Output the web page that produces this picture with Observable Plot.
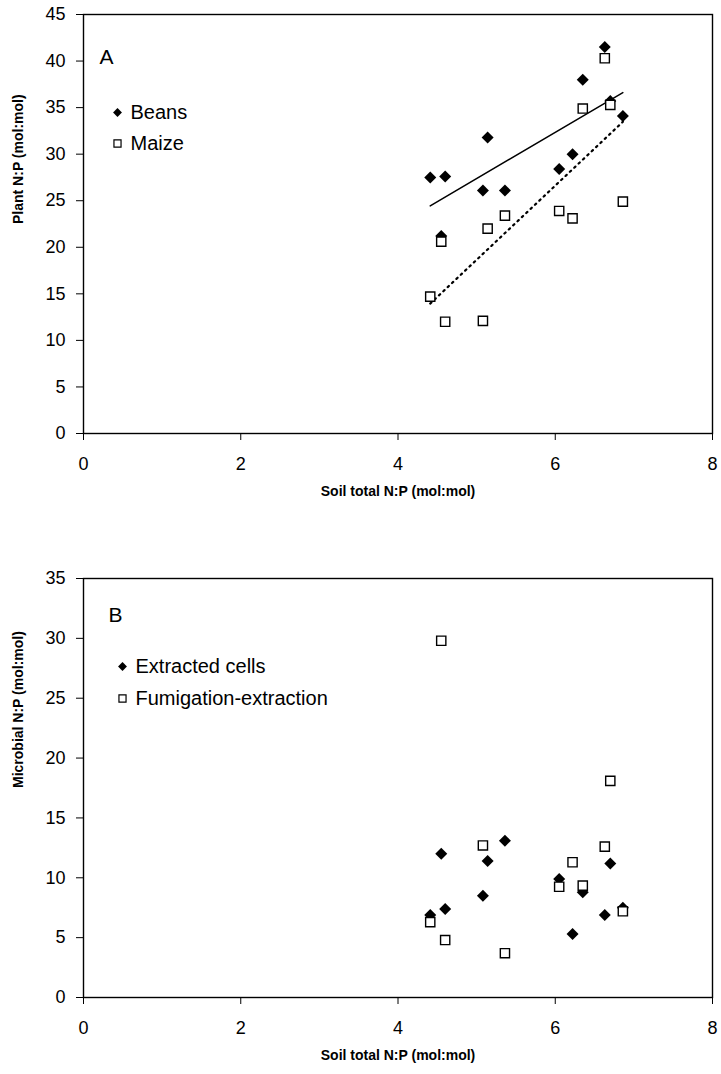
<!DOCTYPE html>
<html>
<head>
<meta charset="utf-8">
<script src="https://cdn.jsdelivr.net/npm/d3@7"></script>
<script src="https://cdn.jsdelivr.net/npm/@observablehq/plot@0.6"></script>
<style>
  body { margin: 0; background: #fff; }
  #chart svg { display: block; }
</style>
</head>
<body>
<div id="chart"></div>
<script>
// ---- data ----
const soilNP = [4.41, 4.55, 4.60, 5.08, 5.14, 5.36, 6.05, 6.22, 6.35, 6.63, 6.70, 6.86];
// Panel A
const beansNP = [27.5, 21.2, 27.6, 26.1, 31.8, 26.1, 28.4, 30.0, 38.0, 41.5, 35.7, 34.1];
const maizeNP = [14.7, 20.6, 12.0, 12.1, 22.0, 23.4, 23.9, 23.1, 34.9, 40.3, 35.3, 24.9];
// Panel B
const extractedNP = [6.9, 12.0, 7.4, 8.5, 11.4, 13.1, 9.9, 5.3, 8.8, 6.9, 11.2, 7.5];
const fumigationNP = [6.3, 29.8, 4.8, 12.7, null, 3.7, 9.25, 11.3, 9.35, 12.6, 18.1, 7.2];
// ticks
const xTicks = [0, 2, 4, 6, 8];
const yTicksA = [0, 5, 10, 15, 20, 25, 30, 35, 40, 45];
const yTicksB = [0, 5, 10, 15, 20, 25, 30, 35];
// labels
const xTitle = "Soil total N:P (mol:mol)";
const yTitleA = "Plant N:P (mol:mol)";
const yTitleB = "Microbial N:P (mol:mol)";
const seriesA = ["Beans", "Maize"];
const seriesB = ["Extracted cells", "Fumigation-extraction"];

const rowsA = soilNP.map((s, i) => ({soil: s, beans: beansNP[i], maize: maizeNP[i]}));
const rowsB = soilNP.map((s, i) => ({soil: s, ext: extractedNP[i], fum: fumigationNP[i]}));

const FONT = "'Liberation Sans', Arial, Helvetica, sans-serif";
const TICK_FS = 18, LEG_FS = 20, LET_FS = 21, TITLE_FS = 14;

function panel({rows, y1, y2, yDomain, yTicks, yTitle, letter, legend, line, height, mt, mb, let: L, leg}) {
  const marks = [
    Plot.axisX({ticks: xTicks, tickSize: 7, tickPadding: 17, label: null, fontSize: TICK_FS}),
    Plot.axisY({ticks: yTicks, tickSize: 7, tickPadding: 11, label: null, fontSize: TICK_FS}),
    Plot.frame({stroke: "black", strokeWidth: 1.4}),
  ];
  if (line) {
    marks.push(Plot.linearRegressionY(rows, {x: "soil", y: y1, stroke: "black", strokeWidth: 1.5, ci: 0}));
    marks.push(Plot.linearRegressionY(rows, {x: "soil", y: y2, stroke: "black", strokeWidth: 2.2, strokeDasharray: "1.6,4.4", ci: 0}));
  }
  marks.push(
    Plot.dot(rows, {x: "soil", y: y1, symbol: "diamond2", fill: "black", stroke: "none", r: 5.4}),
    Plot.dot(rows.filter(d => d[y2] != null), {x: "soil", y: y2, symbol: "square", fill: "white", stroke: "black", strokeWidth: 1.4, r: 5.2}),
    // panel letter
    Plot.text([letter], {frameAnchor: "top-left", dx: L[0], dy: L[1], text: d => d, textAnchor: "start", lineAnchor: "middle", fontSize: LET_FS}),
    // legend
    Plot.dot([0], {frameAnchor: "top-left", dx: leg[0], dy: leg[1], symbol: "diamond2", fill: "black", stroke: "none", r: 4.0}),
    Plot.dot([0], {frameAnchor: "top-left", dx: leg[0], dy: leg[2], symbol: "square", fill: "white", stroke: "black", strokeWidth: 1.2, r: 4.0}),
    Plot.text([legend[0]], {frameAnchor: "top-left", dx: leg[3], dy: leg[1], text: d => d, textAnchor: "start", lineAnchor: "middle", fontSize: LEG_FS}),
    Plot.text([legend[1]], {frameAnchor: "top-left", dx: leg[3], dy: leg[2], text: d => d, textAnchor: "start", lineAnchor: "middle", fontSize: LEG_FS}),
    // axis titles
    Plot.text([yTitle], {frameAnchor: "left", dx: -65, rotate: -90, text: d => d, fontWeight: "bold", fontSize: TITLE_FS}),
    Plot.text([xTitle], {frameAnchor: "bottom", dy: 62, text: d => d, fontWeight: "bold", fontSize: TITLE_FS})
  );
  return Plot.plot({
    width: 721,
    height,
    marginLeft: 83,
    marginRight: 9,
    marginTop: mt,
    marginBottom: mb,
    style: {fontFamily: FONT, fontSize: TICK_FS + "px", color: "black", background: "white", overflow: "visible"},
    x: {domain: [0, 8], ticks: xTicks},
    y: {domain: yDomain, ticks: yTicks},
    marks
  });
}

const chart = document.getElementById("chart");
chart.append(panel({
  rows: rowsA, y1: "beans", y2: "maize", yDomain: [0, 45], yTicks: yTicksA, yTitle: yTitleA,
  letter: "A", legend: seriesA, line: true, height: 520, mt: 14, mb: 87,
  let: [16, 43], leg: [34, 98, 129, 47]
}));
chart.append(panel({
  rows: rowsB, y1: "ext", y2: "fum", yDomain: [0, 35], yTicks: yTicksB, yTitle: yTitleB,
  letter: "B", legend: seriesB, line: false, height: 554, mt: 58, mb: 77,
  let: [25, 37], leg: [39, 88, 120, 52]
}));
</script>
</body>
</html>
